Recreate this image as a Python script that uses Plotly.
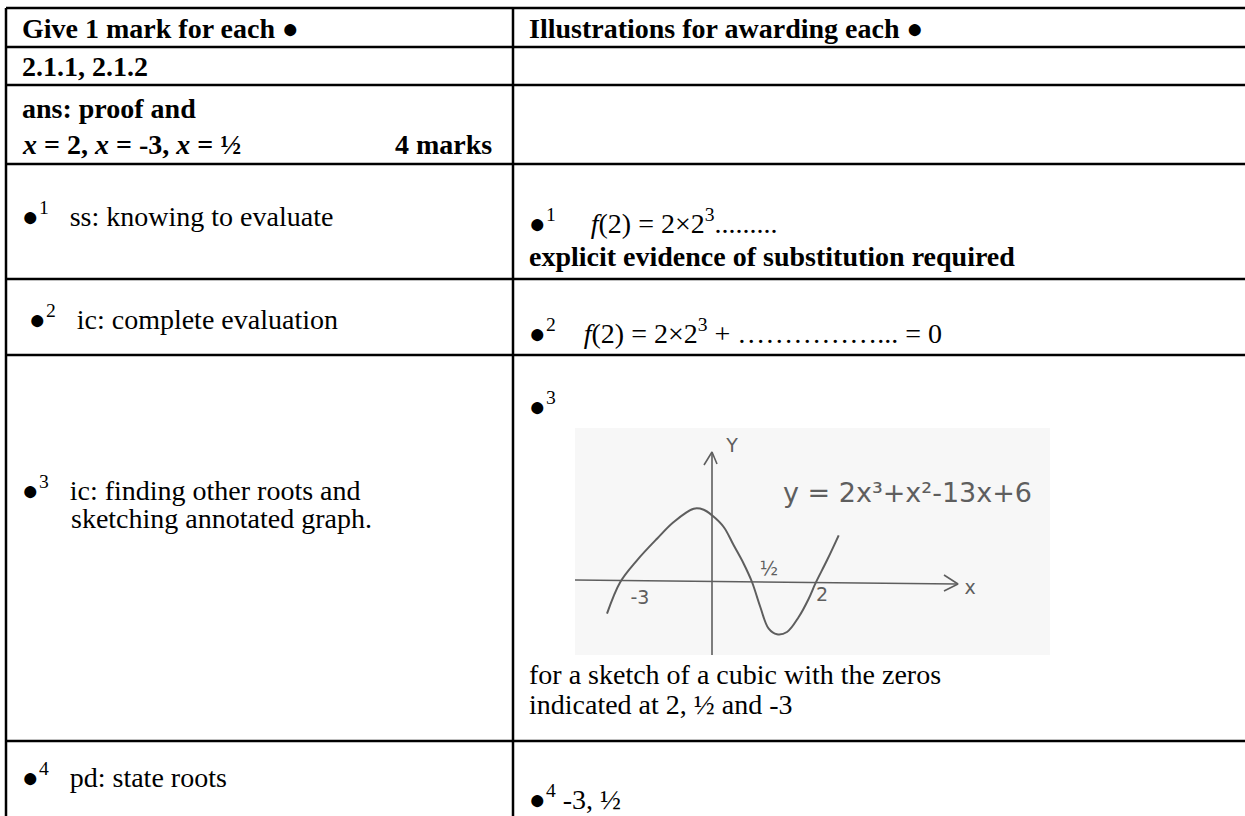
import plotly.graph_objects as go

W, H = 1245, 816

# ---- table grid (pixel space) ----
col_edges = [6, 513, 1252]
row_edges = [8, 47, 85, 164, 279, 355, 741, 830]

# ---- table texts ----
left_texts = [
    "<b>Give 1 mark for each ●</b>",
    "<b>2.1.1, 2.1.2</b>",
    "<b>ans: proof and</b>",
    "<b><i>x</i> = 2, <i>x</i> = -3, <i>x</i> = ½</b>",
    "●<sup>1</sup>   ss: knowing to evaluate",
    " ●<sup>2</sup>   ic: complete evaluation",
    "●<sup>3</sup>   ic: finding other roots and",
    "       sketching annotated graph.",
    "●<sup>4</sup>   pd: state roots",
]
left_ys = [28, 66, 108, 144, 214, 317, 488, 518, 775]

marks_text = "<b>4 marks</b>"

right_texts = [
    "<b>Illustrations for awarding each ●</b>",
    "●<sup>1</sup>     <i>f</i>(2) = 2×2<sup>3</sup>.........",
    "<b>explicit evidence of substitution required</b>",
    "●<sup>2</sup>    <i>f</i>(2) = 2×2<sup>3</sup> + ……………... = 0",
    "●<sup>3</sup>",
    "for a sketch of a cubic with the zeros",
    "indicated at 2, ½ and -3",
    "●<sup>4</sup> -3, ½",
]
right_ys = [28, 221, 256, 331, 404, 674, 704, 797]

# ---- hand sketch (offsets from sketch origin) ----
curve_x = [-105, -91.7, -75, -55, -38.3, -18.3, -8.3, 0, 11.7, 21.7, 31.7, 40,
           48.3, 56.7, 65, 75, 86.7, 96.7, 103.3, 115, 126.7]
curve_y = [-31.7, 0, 21.7, 43.3, 60, 73.3, 72.3, 66.7, 55, 36.7, 18.3, 0,
           -25, -46.7, -52.3, -50, -35, -16.7, -1.7, 21.7, 46.7]
xaxis_line_x = [-137, 245]
xaxis_line_y = [2, -2]
xarrow_x = [232, 246, 232]
xarrow_y = [7, -2, -9]
yaxis_line_x = [0, 0]
yaxis_line_y = [-73, 130]
yarrow_x = [-8, 0, 5]
yarrow_y = [117, 130, 118]
sketch_labels = ["-3", "½", "2", "x", "Y"]
sketch_label_x = [-72, 57, 110, 258, 20]
sketch_label_y = [-17, 12, -14, -7, 135]
equation = "y = 2x³+x²-13x+6"

sk_left, sk_right, sk_top, sk_bottom = 575, 1050, 428, 655
origin_px_x, origin_px_y = 712, 582

SERIF = "Liberation Serif"
FS = 28
ink = "#000000"
pencil = "#5e5e5e"

fig = go.Figure()

for xs, ys in [(xaxis_line_x, xaxis_line_y), (xarrow_x, xarrow_y),
               (yaxis_line_x, yaxis_line_y), (yarrow_x, yarrow_y)]:
    fig.add_trace(go.Scatter(x=xs, y=ys, mode="lines",
                             line=dict(color=pencil, width=1.6), xaxis="x2", yaxis="y2",
                             hoverinfo="skip", showlegend=False))
fig.add_trace(go.Scatter(x=curve_x, y=curve_y, mode="lines",
                         line=dict(color=pencil, width=2, shape="spline", smoothing=1.0),
                         xaxis="x2", yaxis="y2", hoverinfo="skip", showlegend=False))
fig.add_trace(go.Scatter(x=sketch_label_x, y=sketch_label_y, mode="text",
                         text=sketch_labels,
                         textfont=dict(family="DejaVu Sans", size=19, color=pencil),
                         xaxis="x2", yaxis="y2", hoverinfo="skip", showlegend=False))

shapes = []
shapes.append(dict(type="rect", xref="x", yref="y", x0=sk_left, x1=sk_right,
                   y0=sk_top, y1=sk_bottom, fillcolor="#f7f7f7",
                   line=dict(width=0), layer="below"))
for yv in row_edges:
    shapes.append(dict(type="line", xref="x", yref="y", x0=col_edges[0], x1=col_edges[-1],
                       y0=yv, y1=yv, line=dict(color=ink, width=2.5)))
for xv in col_edges:
    shapes.append(dict(type="line", xref="x", yref="y", x0=xv, x1=xv,
                       y0=row_edges[0], y1=row_edges[-1], line=dict(color=ink, width=2.5)))

annotations = []
for t, yv in zip(left_texts, left_ys):
    annotations.append(dict(x=20, y=yv, xref="x", yref="y", text=t, showarrow=False,
                            xanchor="left", yanchor="middle",
                            font=dict(family=SERIF, size=FS, color=ink)))
annotations.append(dict(x=494, y=left_ys[3], xref="x", yref="y", text=marks_text,
                        showarrow=False, xanchor="right", yanchor="middle",
                        font=dict(family=SERIF, size=FS, color=ink)))
for t, yv in zip(right_texts, right_ys):
    annotations.append(dict(x=527, y=yv, xref="x", yref="y", text=t, showarrow=False,
                            xanchor="left", yanchor="middle",
                            font=dict(family=SERIF, size=FS, color=ink)))
annotations.append(dict(x=195, y=90, xref="x2", yref="y2", text=equation,
                        showarrow=False, xanchor="center", yanchor="middle",
                        font=dict(family="DejaVu Sans", size=27, color=pencil)))

fig.update_layout(
    width=W, height=H, autosize=False,
    margin=dict(l=0, r=0, t=0, b=0, pad=0),
    paper_bgcolor="white", plot_bgcolor="rgba(0,0,0,0)",
    xaxis=dict(range=[0, W], visible=False, domain=[0, 1], fixedrange=True),
    yaxis=dict(range=[H, 0], visible=False, domain=[0, 1], fixedrange=True),
    xaxis2=dict(range=[sk_left - origin_px_x, sk_right - origin_px_x], visible=False,
                domain=[sk_left / W, sk_right / W], anchor="y2"),
    yaxis2=dict(range=[origin_px_y - sk_bottom, origin_px_y - sk_top], visible=False,
                domain=[(H - sk_bottom) / H, (H - sk_top) / H], anchor="x2"),
    shapes=shapes,
    annotations=annotations,
    showlegend=False,
)

fig.write_html("out.html", config={"displayModeBar": False},
               post_script="document.body.style.margin='0';")
